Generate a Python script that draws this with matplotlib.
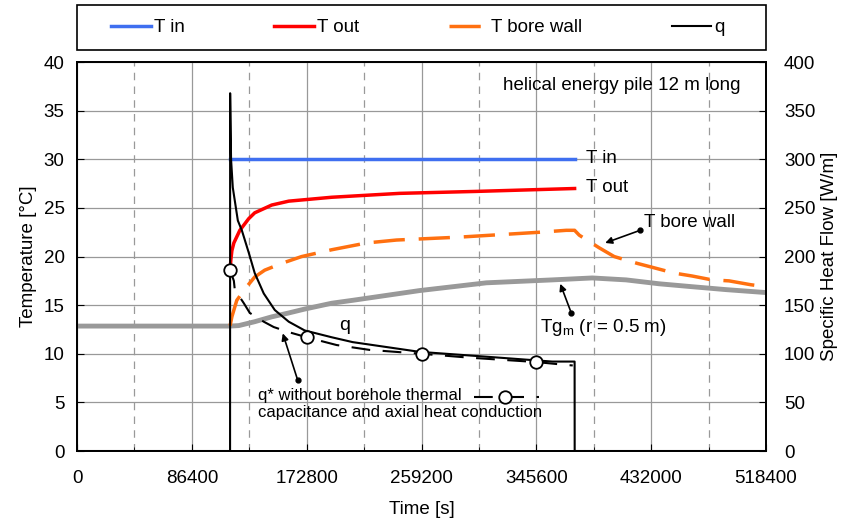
import numpy as np
import matplotlib.pyplot as plt
from matplotlib.patches import Rectangle

plt.rcParams['font.family'] = ['Liberation Sans', 'DejaVu Sans']
plt.rcParams['font.size'] = 12
plt.rcParams['mathtext.fontset'] = 'custom'
plt.rcParams['mathtext.rm'] = 'Liberation Sans'

# --- data (time in s) ---
t_on, t_off = 115200, 374400

tin_t = [t_on, t_off]
tin_v = [30, 30]

tout_t = [115200, 115700, 116500, 118000, 122500, 129200, 133700, 146500, 159300,
          191600, 242700, 300000, 374400]
tout_v = [18.6, 19.6, 20.6, 21.4, 22.7, 23.9, 24.5, 25.3, 25.7,
          26.1, 26.5, 26.7, 27.0]

tb_t = [115200, 116500, 120200, 127700, 133700, 141200, 154000, 169000, 191600,
        217900, 240400, 287800, 347800, 368100, 374400, 377900, 392900, 404200,
        421500, 432700, 449300, 462800, 477800, 490600, 507100, 518400]
tb_v = [12.9, 13.8, 15.5, 16.9, 17.9, 18.6, 19.3, 20.0, 20.7,
        21.4, 21.7, 22.0, 22.5, 22.7, 22.7, 22.2, 20.9, 20.0,
        19.3, 18.9, 18.3, 18.0, 17.6, 17.5, 17.1, 16.9]

tg_t = [0, 115200, 121700, 133700, 146500, 159300, 171300, 191600, 207400, 257700,
        308000, 357600, 387700, 413200, 438000, 462800, 488300, 513100, 518400]
tg_v = [12.85, 12.85, 12.9, 13.3, 13.8, 14.2, 14.6, 15.2, 15.5, 16.5,
        17.3, 17.6, 17.8, 17.6, 17.2, 16.9, 16.6, 16.35, 16.3]

q_t = [0, 115150, 115200, 115900, 117200, 121000, 124000, 129200, 133700, 140500,
       148800, 159300, 171300, 191600, 207400, 257700, 308000, 357600, 374400,
       374450, 518400]
q_v = [0, 0, 368, 300, 271, 237, 227, 204, 183, 162,
       145, 133, 124, 117, 112, 102, 97, 92, 92,
       0, 0]

qs_t = [115200, 118000, 118700, 125500, 130000, 140500, 148000, 160000, 172800,
        195300, 220100, 259200, 295300, 345600, 368100, 373000]
qs_v = [186, 175, 166, 152, 142, 133, 127.5, 122, 117,
        109, 104, 100, 96, 91.5, 88.5, 88]
qs_marks = [0, 8, 11, 13]

xticks = np.arange(0, 518401, 86400)

fig = plt.figure(figsize=(8.41, 5.22), dpi=100)
ax = fig.add_axes([0.0916, 0.136, 0.8192, 0.745])
ax2 = ax.twinx()

ax.set_xlim(0, 518400)
ax.set_ylim(0, 40)
ax2.set_ylim(0, 400)
ax.set_xticks(xticks)
ax.set_xticklabels([str(v) for v in xticks])
ax.set_xticks(np.arange(43200, 518400, 86400), minor=True)
ax.set_yticks(np.arange(0, 41, 5))
ax2.set_yticks(np.arange(0, 401, 50))

ax.grid(True, color='#999999', lw=0.9)
for x in np.arange(43200, 518400, 86400):
    ax.axvline(x, color='#999999', lw=0.9, ls=(0, (6, 5)), zorder=0.5)

ax.tick_params(direction='in', length=5, labelsize=13.5)
ax.tick_params(axis='x', which='minor', direction='in', length=3)
ax2.tick_params(direction='in', length=5, labelsize=13.5)
ax.tick_params(axis='x', pad=14)
ax.tick_params(axis='y', pad=9)
ax2.tick_params(axis='y', pad=13)
for a in (ax, ax2):
    for s in a.spines.values():
        s.set_linewidth(1.3)

ax.set_xlabel('Time [s]', fontsize=13.5, labelpad=10)
ax.set_ylabel('Temperature [°C]', fontsize=13.5, labelpad=5)
ax2.set_ylabel('Specific Heat Flow [W/m]', fontsize=13.5, labelpad=4)

ax.plot(tg_t, tg_v, color='#999999', lw=3.5)
l_in, = ax.plot(tin_t, tin_v, color='#3f6ff0', lw=2.5)
l_out, = ax.plot(tout_t, tout_v, color='#ff0000', lw=2.5)
l_bw, = ax.plot(tb_t, tb_v, color='#ff7010', lw=2.5, dashes=(9, 4))
l_q, = ax2.plot(q_t, q_v, color='black', lw=1.5)
ax2.plot(qs_t, qs_v, color='black', lw=1.5, dashes=(9, 6), marker='o',
         markevery=qs_marks, mfc='white', mec='black', ms=9, mew=1.3, zorder=5)

# labels and notes
ax.text(410200, 37.6, 'helical energy pile 12 m long', ha='center', va='center',
        fontsize=13.5)
ax.text(383000, 30.1, 'T in', ha='left', va='center', fontsize=13.5)
ax.text(383000, 27.1, 'T out', ha='left', va='center', fontsize=13.5)
ax.text(201300, 12.95, 'q', ha='center', va='center', fontsize=14)

arrow = dict(arrowstyle='-|>', color='black', lw=1.2, mutation_scale=10,
             shrinkA=0, shrinkB=0)
ax.annotate('', xy=(397400, 21.4), xytext=(423700, 22.7), arrowprops=arrow)
ax.plot([423700], [22.7], 'o', color='black', ms=3.5)
ax.text(426500, 23.5, 'T bore wall', ha='left', va='center', fontsize=13.5)

ax.annotate('', xy=(363600, 17.2), xytext=(371900, 14.2), arrowprops=arrow)
ax.plot([371900], [14.2], 'o', color='black', ms=3.5)
ax.text(348500, 12.7, r'Tg$_{\mathrm{m}}$ (r = 0.5 m)', ha='left', va='center',
        fontsize=13.5)

ax.annotate('', xy=(154800, 12.1), xytext=(166000, 7.3), arrowprops=arrow)
ax.plot([166000], [7.3], 'o', color='black', ms=3.5)
ax.text(136000, 4.85, 'q* without borehole thermal\ncapacitance and axial heat conduction',
        ha='left', va='center', linespacing=1.15, fontsize=12)
ax.plot([299000, 347800], [5.55, 5.55], color='black', lw=1.5, dashes=(9, 6))
ax.plot([322000], [5.55], 'o', mfc='white', mec='black', ms=9, mew=1.3)

leg = fig.legend([l_in, l_out, l_bw, l_q], ['T in', 'T out', 'T bore wall', 'q'],
                 loc='center', bbox_to_anchor=(0.497, 0.947),
                 ncol=4, frameon=False, handlelength=2.1, handletextpad=0.15,
                 columnspacing=4.8, fontsize=13.5)
fig.patches.append(Rectangle((0.0916, 0.904), 0.8192, 0.0862, transform=fig.transFigure,
                             fill=False, edgecolor='black', lw=1.2))

fig.savefig('out.png', dpi=100)
